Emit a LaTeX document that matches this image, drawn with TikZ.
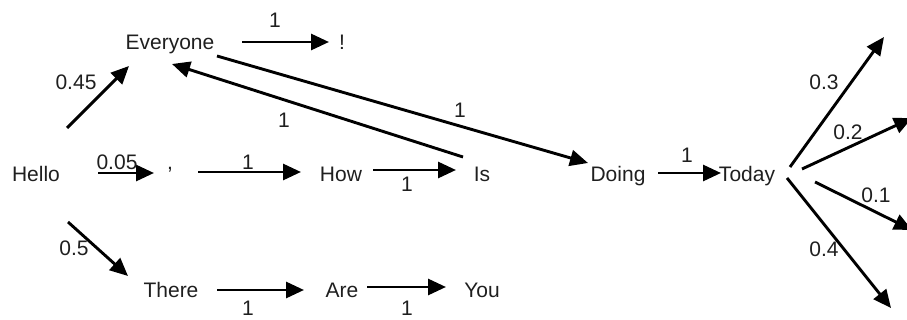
\documentclass[tikz,border=0pt]{standalone}
\usepackage{fontspec}
\setmainfont{Liberation Sans}
\usetikzlibrary{arrows.meta,calc}
\begin{document}
\begin{tikzpicture}[x=1pt,y=-1pt,
  word/.style={anchor=base,inner sep=0pt,font=\fontsize{21}{25}\selectfont,text=black!88},
  lab/.style={anchor=base,inner sep=0pt,font=\fontsize{21}{25}\selectfont,text=black!88},
  arr/.style={line width=2.9pt,-{Triangle[length=18pt,width=16pt]}}]
\useasboundingbox (0,0) rectangle (907,320);
\clip (0,0) rectangle (907,320);
% words
\node[word] (hello) at (36,182) {Hello};
\node[word] (everyone) at (170,50) {Everyone};
\node[word] (excl) at (342,50) {!};
\node[word] (comma) at (170,170) {,};
\node[word] (how) at (341,182) {How};
\node[word] (is) at (482,182) {Is};
\node[word] (doing) at (618,182) {Doing};
\node[word] (today) at (747,182) {Today};
\node[word] (there) at (171,297) {There};
\node[word] (are) at (342,297) {Are};
\node[word] (you) at (482,297) {You};
% free ends
\coordinate (o3) at (884,37);
\coordinate (o2) at (912,118);
\coordinate (o1) at (912,230);
\coordinate (o4) at (891,308);
% connectors
\draw[arr] ($(hello.base)+(31,-54)$) -- ($(everyone.base)+(-41,16)$);
\draw[arr] ($(hello.base)+(62,-9)$) -- ($(comma.base)+(-16,3)$);
\draw[arr] ($(hello.base)+(32,40)$) -- ($(there.base)+(-43,-21)$);
\draw[arr] ($(everyone.base)+(72,-8)$) -- ($(excl.base)+(-13,-8)$);
\draw[arr] ($(everyone.base)+(47,6)$) -- ($(doing.base)+(-30,-19)$);
\draw[arr] ($(is.base)+(-19,-25)$) -- ($(everyone.base)+(2,14)$);
\draw[arr] ($(comma.base)+(28,2)$) -- ($(how.base)+(-40,-10)$);
\draw[arr] ($(how.base)+(32,-12)$) -- ($(is.base)+(-26,-12)$);
\draw[arr] ($(doing.base)+(40,-9)$) -- ($(today.base)+(-26,-9)$);
\draw[arr] ($(there.base)+(46,-7)$) -- ($(are.base)+(-38,-7)$);
\draw[arr] ($(are.base)+(25,-10)$) -- ($(you.base)+(-36,-10)$);
\draw[arr] ($(today.base)+(43,-15)$) -- (o3);
\draw[arr] ($(today.base)+(55,-13)$) -- (o2);
\draw[arr] ($(today.base)+(68,0)$) -- (o1);
\draw[arr] ($(today.base)+(40,-4)$) -- (o4);
% labels
\node[lab] (l1) at (76,90) {0.45};
\node[lab] (l2) at (275,28) {1};
\node[lab] (l3) at (284,128) {1};
\node[lab] (l4) at (460,118) {1};
\node[lab] (l5) at (117,170) {0.05};
\node[lab] (l6) at (248,170) {1};
\node[lab] (l7) at (407,192) {1};
\node[lab] (l8) at (74,255) {0.5};
\node[lab] (l9) at (248,315) {1};
\node[lab] (l10) at (407,315) {1};
\node[lab] (l11) at (687,163) {1};
\node[lab] (l12) at (824,90) {0.3};
\node[lab] (l13) at (848,140) {0.2};
\node[lab] (l14) at (876,203) {0.1};
\node[lab] (l15) at (824,257) {0.4};
\end{tikzpicture}
\end{document}
